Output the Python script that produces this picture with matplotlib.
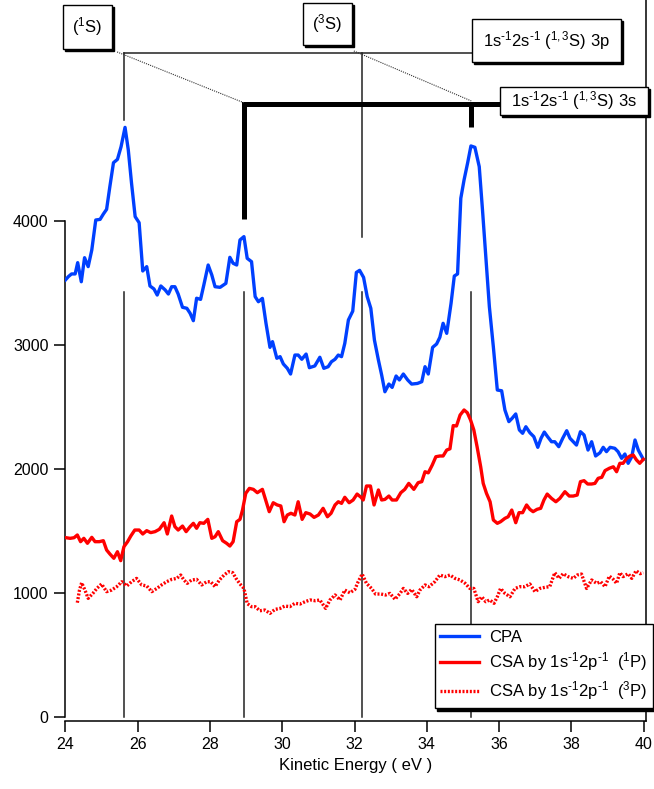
import matplotlib
matplotlib.use("Agg")
import matplotlib.pyplot as plt
from matplotlib.patches import Rectangle

plt.rcParams['font.family'] = ['Liberation Sans', 'DejaVu Sans']
plt.rcParams['mathtext.fontset'] = 'custom'
plt.rcParams['mathtext.rm'] = 'Liberation Sans'
plt.rcParams['mathtext.it'] = 'Liberation Sans:italic'
plt.rcParams['mathtext.bf'] = 'Liberation Sans:bold'
plt.rcParams['mathtext.default'] = 'regular'

# ---------------- data ----------------
cpa_x = [24.0, 24.08, 24.17, 24.27, 24.34, 24.44, 24.53, 24.63, 24.73, 24.84, 24.96, 25.05, 25.14, 25.23,
         25.33, 25.44, 25.54, 25.65, 25.74, 25.83, 25.93, 26.04, 26.14, 26.25, 26.34, 26.45, 26.54, 26.64,
         26.76, 26.85, 26.94, 27.03, 27.12, 27.24, 27.36, 27.45, 27.54, 27.63, 27.74, 27.83, 27.95, 28.05,
         28.14, 28.28, 28.44, 28.55, 28.64, 28.74, 28.83, 28.94, 29.03, 29.15, 29.25, 29.34, 29.45, 29.55,
         29.66, 29.73, 29.85, 29.94, 30.03, 30.14, 30.23, 30.35, 30.44, 30.54, 30.66, 30.75, 30.9, 31.04,
         31.15, 31.27, 31.36, 31.46, 31.55, 31.64, 31.73, 31.83, 31.95, 32.05, 32.14, 32.25, 32.35, 32.45,
         32.55, 32.66, 32.75, 32.84, 32.95, 33.04, 33.15, 33.24, 33.35, 33.47, 33.58, 33.74, 33.86, 33.95,
         34.04, 34.16, 34.27, 34.36, 34.45, 34.55, 34.67, 34.76, 34.85, 34.94, 35.03, 35.13, 35.22, 35.33,
         35.45, 35.54, 35.64, 35.73, 35.84, 35.95, 36.07, 36.16, 36.27, 36.36, 36.46, 36.56, 36.65, 36.74,
         36.85, 36.96, 37.07, 37.16, 37.25, 37.34, 37.45, 37.54, 37.65, 37.76, 37.87, 37.96, 38.05, 38.14,
         38.25, 38.35, 38.46, 38.56, 38.67, 38.79, 38.88, 38.97, 39.07, 39.2, 39.29, 39.39, 39.48, 39.57,
         39.67, 39.76, 39.85, 39.99]
cpa_y = [3524, 3551, 3573, 3573, 3664, 3510, 3704, 3632, 3766, 4008, 4013, 4056, 4094, 4277,
         4470, 4497, 4599, 4755, 4573, 4304, 4035, 3986, 3597, 3632, 3476, 3452, 3403, 3476,
         3444, 3411, 3470, 3470, 3411, 3304, 3296, 3256, 3196, 3377, 3368, 3484, 3645, 3565,
         3470, 3465, 3497, 3707, 3659, 3645, 3847, 3874, 3699, 3672, 3390, 3349, 3376, 3175,
         2981, 3027, 2893, 2906, 2847, 2812, 2766, 2919, 2919, 2885, 2927, 2817, 2831, 2901,
         2812, 2825, 2865, 2885, 2919, 2906, 3013, 3202, 3273, 3585, 3602, 3545, 3390, 3296,
         3040, 2879, 2758, 2623, 2685, 2658, 2750, 2718, 2766, 2718, 2685, 2690, 2704, 2825,
         2766, 2981, 3008, 3062, 3175, 3094, 3336, 3556, 3573, 4183, 4331, 4470, 4605, 4594,
         4438, 4089, 3685, 3309, 2986, 2637, 2631, 2476, 2382, 2409, 2444, 2315, 2288, 2341,
         2293, 2261, 2175, 2248, 2298, 2261, 2220, 2220, 2180, 2248, 2309, 2248, 2220, 2193,
         2301, 2274, 2153, 2220, 2105, 2131, 2175, 2140, 2175, 2167, 2140, 2086, 2121, 2046,
         2099, 2234, 2153, 2078]

csa1_x = [24.02, 24.13, 24.24, 24.33, 24.42, 24.51, 24.61, 24.73, 24.82, 24.94, 25.05, 25.14, 25.23, 25.34,
          25.44, 25.53, 25.62, 25.72, 25.81, 25.92, 26.04, 26.14, 26.25, 26.36, 26.48, 26.6, 26.73, 26.82,
          26.94, 27.03, 27.12, 27.24, 27.34, 27.45, 27.54, 27.63, 27.72, 27.83, 27.94, 28.05, 28.14, 28.23,
          28.35, 28.46, 28.55, 28.64, 28.74, 28.83, 28.9, 28.99, 29.09, 29.2, 29.31, 29.45, 29.54, 29.64,
          29.75, 29.86, 29.96, 30.05, 30.14, 30.24, 30.35, 30.44, 30.55, 30.65, 30.77, 30.88, 31.0, 31.13,
          31.25, 31.35, 31.46, 31.55, 31.64, 31.73, 31.85, 31.96, 32.07, 32.18, 32.24, 32.33, 32.44, 32.54,
          32.66, 32.75, 32.84, 32.95, 33.04, 33.16, 33.28, 33.39, 33.5, 33.64, 33.76, 33.86, 33.95, 34.04,
          34.15, 34.25, 34.36, 34.45, 34.55, 34.64, 34.73, 34.82, 34.92, 35.03, 35.12, 35.21, 35.3, 35.39,
          35.49, 35.56, 35.65, 35.75, 35.84, 35.95, 36.04, 36.16, 36.25, 36.35, 36.46, 36.55, 36.65, 36.76,
          36.85, 36.94, 37.05, 37.15, 37.24, 37.33, 37.45, 37.57, 37.68, 37.82, 37.94, 38.05, 38.16, 38.25,
          38.35, 38.45, 38.56, 38.65, 38.74, 38.84, 38.93, 39.05, 39.16, 39.25, 39.34, 39.43, 39.53, 39.62,
          39.71, 39.8, 39.89, 39.99]
csa1_y = [1446, 1441, 1446, 1468, 1414, 1441, 1401, 1449, 1414, 1414, 1422, 1347, 1315, 1280,
          1333, 1261, 1374, 1414, 1460, 1508, 1508, 1476, 1503, 1487, 1495, 1514, 1567, 1476,
          1621, 1535, 1508, 1540, 1495, 1535, 1562, 1522, 1567, 1562, 1594, 1441, 1454, 1495,
          1422, 1401, 1379, 1414, 1575, 1594, 1669, 1804, 1844, 1836, 1809, 1836, 1750, 1656,
          1728, 1710, 1702, 1575, 1629, 1643, 1629, 1736, 1594, 1648, 1637, 1610, 1629, 1683,
          1615, 1643, 1710, 1736, 1723, 1772, 1728, 1750, 1798, 1772, 1750, 1863, 1863, 1710,
          1831, 1750, 1755, 1782, 1750, 1750, 1809, 1836, 1884, 1836, 1890, 1898, 1978, 1969,
          2032, 2099, 2105, 2105, 2153, 2163, 2350, 2347, 2435, 2476, 2454, 2395, 2315, 2180,
          2018, 1884, 1804, 1736, 1589, 1562, 1575, 1602, 1615, 1669, 1567, 1648, 1648, 1710,
          1675, 1656, 1675, 1683, 1750, 1798, 1763, 1736, 1763, 1817, 1782, 1782, 1790, 1898,
          1906, 1879, 1879, 1884, 1925, 1933, 1987, 2006, 2018, 1978, 2046, 2046, 2086, 2105,
          2113, 2073, 2046, 2078]

csa3_x = [24.33, 24.39, 24.45, 24.54, 24.63, 24.76, 24.87, 25.0, 25.14, 25.28, 25.42, 25.56, 25.7, 25.83,
          25.97, 26.11, 26.25, 26.39, 26.53, 26.66, 26.8, 26.94, 27.08, 27.19, 27.28, 27.37, 27.49, 27.63,
          27.77, 27.91, 28.02, 28.14, 28.26, 28.39, 28.51, 28.63, 28.72, 28.83, 28.94, 29.03, 29.15, 29.25,
          29.38, 29.52, 29.66, 29.8, 29.94, 30.07, 30.21, 30.35, 30.49, 30.63, 30.77, 30.91, 31.04, 31.2,
          31.32, 31.46, 31.6, 31.73, 31.87, 32.01, 32.1, 32.21, 32.33, 32.47, 32.58, 32.73, 32.86, 32.98,
          33.12, 33.26, 33.35, 33.47, 33.58, 33.72, 33.81, 33.95, 34.06, 34.22, 34.36, 34.5, 34.64, 34.78,
          34.92, 35.06, 35.19, 35.3, 35.42, 35.52, 35.63, 35.74, 35.86, 35.95, 36.04, 36.16, 36.3, 36.44,
          36.58, 36.71, 36.85, 36.99, 37.13, 37.27, 37.4, 37.54, 37.66, 37.77, 37.91, 38.05, 38.16, 38.28,
          38.42, 38.56, 38.7, 38.81, 38.93, 39.05, 39.16, 39.25, 39.34, 39.43, 39.57, 39.67, 39.79, 39.9,
          39.99]
csa3_y = [922, 1024, 1083, 1024, 957, 997, 1037, 1073, 1011, 1024, 1051, 1091, 1057, 1091,
          1118, 1065, 1057, 1011, 1037, 1065, 1091, 1110, 1118, 1145, 1105, 1078, 1105, 1110,
          1065, 1091, 1091, 1051, 1105, 1145, 1172, 1164, 1118, 1073, 1037, 915, 890, 890,
          857, 863, 836, 868, 876, 895, 890, 917, 911, 930, 944, 938, 944, 876,
          944, 984, 944, 1024, 1002, 1029, 1091, 1153, 1078, 1037, 992, 992, 984, 997,
          949, 997, 1037, 997, 1029, 970, 1024, 1065, 1051, 1091, 1145, 1132, 1145, 1118,
          1105, 1078, 1037, 1037, 930, 970, 930, 944, 917, 970, 1037, 997, 970, 1037,
          1051, 1051, 1073, 1011, 1037, 1046, 1051, 1164, 1118, 1156, 1132, 1118, 1145, 1153,
          1037, 1105, 1078, 1091, 1051, 1137, 1110, 1078, 1164, 1132, 1156, 1118, 1180, 1156,
          1164]

labels = ['CPA',
          'CSA by 1s$^{\u2010 1}$2p$^{\u2010 1}$  ($^1$P)',
          'CSA by 1s$^{\u2010 1}$2p$^{\u2010 1}$  ($^3$P)']

# resonance positions (eV)
singlet_3p = 25.63
triplet_3p = 32.2
singlet_3s = 28.95
triplet_3s = 35.23
marker_x = [singlet_3p, singlet_3s, triplet_3p, triplet_3s]

xticks = [24, 26, 28, 30, 32, 34, 36, 38, 40]
yticks = [0, 1000, 2000, 3000, 4000]

# ---------------- figure ----------------
W, H = 654, 789
fig = plt.figure(figsize=(W / 100, H / 100), dpi=100)
ax = fig.add_axes([65.4 / W, (H - 721) / H, (645.5 - 65.4) / W, 721 / H])
ax.set_xlim(24, 40.05)
ax.set_ylim(-32, 5782)

blue = '#0040FF'
red = '#FF0000'
ax.plot(cpa_x, cpa_y, color=blue, lw=2.4, label=labels[0], zorder=3, solid_joinstyle='round')
ax.plot(csa1_x, csa1_y, color=red, lw=2.4, label=labels[1], zorder=3, solid_joinstyle='round')
ax.plot(csa3_x, csa3_y, color=red, lw=2.4, ls=(0, (0.6, 0.5)), label=labels[2], zorder=3)

# vertical marker lines (lower)
for xv in marker_x:
    ax.plot([xv, xv], [0, 3430], color='#222222', lw=1.1, zorder=2)

# upper annotation lines
ax.plot([singlet_3p, singlet_3p], [4815, 5355], color='#222222', lw=1.1)
ax.plot([triplet_3p, triplet_3p], [3871, 5355], color='#222222', lw=1.1)
ax.plot([singlet_3p, 35.3], [5355, 5355], color='#222222', lw=1.1, clip_on=False)
ax.plot([singlet_3s, singlet_3s, 36.05], [4016, 4944, 4944], color='black', lw=3.6,
        solid_joinstyle='miter', solid_capstyle='butt', clip_on=False)
ax.plot([triplet_3s, triplet_3s], [4944, 4758], color='black', lw=3.6, solid_capstyle='butt')
ax.plot([25.43, singlet_3s], [5363, 4952], color='#333333', lw=0.8, ls=(0, (1, 1)))
ax.plot([31.98, triplet_3s], [5371, 4968], color='#333333', lw=0.8, ls=(0, (1, 1)))


def box(x0, y0, x1, y1, text, size=12):
    fx0, fx1 = x0 / W, x1 / W
    fy0, fy1 = 1 - y1 / H, 1 - y0 / H
    sh = Rectangle((fx0 + 2 / W, fy0 - 2 / H), fx1 - fx0, fy1 - fy0, transform=fig.transFigure,
                   facecolor='black', edgecolor='black', lw=1, zorder=10)
    r = Rectangle((fx0, fy0), fx1 - fx0, fy1 - fy0, transform=fig.transFigure,
                  facecolor='white', edgecolor='black', lw=1, zorder=11)
    fig.patches.extend([sh, r])
    fig.text((fx0 + fx1) / 2, (fy0 + fy1) / 2, text, ha='center', va='center', size=size, zorder=12)


box(63, 5, 112, 49, '($^1$S)')
box(303, 3, 352, 45, '($^3$S)')
box(472, 19, 621, 62, '1s$^{\u2010 1}$2s$^{\u2010 1}$ ($^{1,3}$S) 3p')
box(500, 87, 648, 115, '1s$^{\u2010 1}$2s$^{\u2010 1}$ ($^{1,3}$S) 3s')

# axes styling
ax.spines['top'].set_visible(False)
ax.spines['left'].set_bounds(0, 4000)
ax.spines['left'].set_linewidth(1.1)
ax.spines['bottom'].set_linewidth(1.1)
ax.spines['right'].set_linewidth(1.1)
ax.set_xticks(xticks)
ax.set_yticks(yticks)
ax.tick_params(axis='both', direction='out', length=8, width=1.1, labelsize=11.5)
ax.tick_params(axis='y', pad=4)
ax.set_xlabel('Kinetic Energy ( eV )', fontsize=12, labelpad=4)

leg = ax.legend(loc='lower right', bbox_to_anchor=(653 / W, 1 - 708 / H), bbox_transform=fig.transFigure,
                borderaxespad=0, fancybox=False, frameon=True, fontsize=12, handlelength=2.3,
                handletextpad=0.6, labelspacing=0.35, borderpad=0.35,
                shadow={'color': 'black', 'alpha': 1})
leg.get_frame().set_edgecolor('black')
leg.get_frame().set_linewidth(1)
leg.set_zorder(20)

fig.savefig('out.png', dpi=100)
